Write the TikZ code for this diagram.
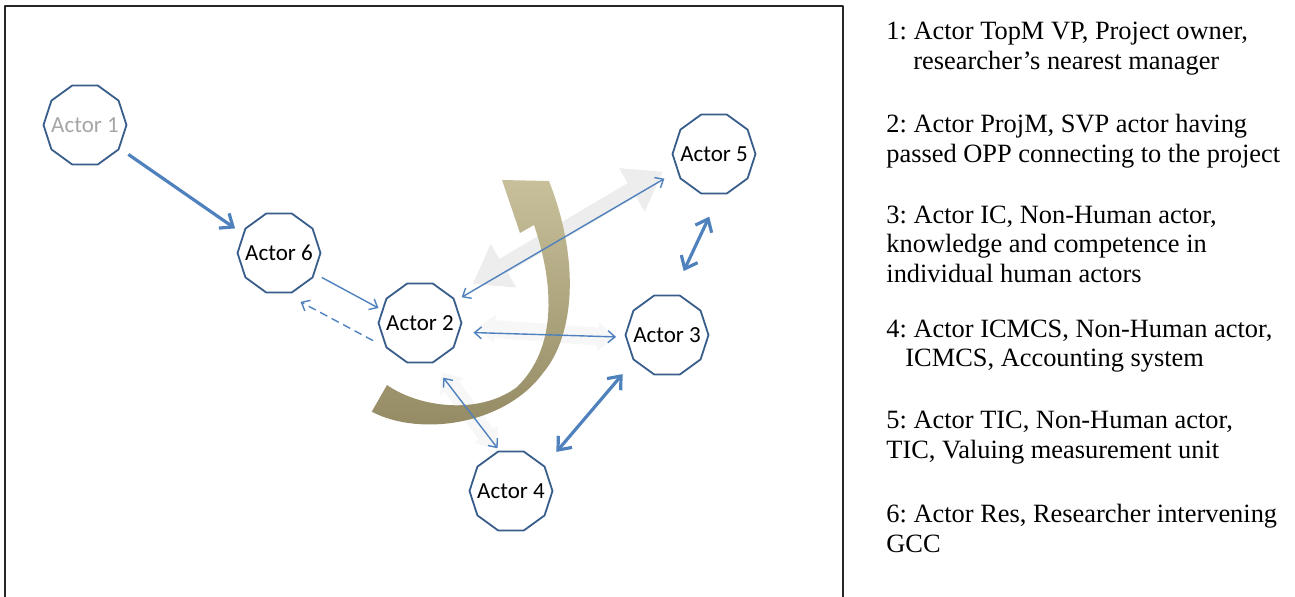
\documentclass[tikz,border=0pt]{standalone}
\usepackage{fontspec}
\setmainfont{Liberation Serif}
\newfontfamily\actorfont{Carlito}
\usetikzlibrary{shapes.geometric,arrows.meta}
\definecolor{actorline}{RGB}{56,93,138}
\definecolor{linkblue}{RGB}{79,129,189}
\definecolor{khakiL}{RGB}{200,192,154}
\definecolor{khakiD}{RGB}{146,137,98}
\frenchspacing
\begin{document}
\begin{tikzpicture}[x=0.5pt, y=-0.5pt, line join = round]
	\tikzset{actor/.style={regular polygon, regular polygon sides=10, draw=actorline, line width=0.9pt, minimum size=41.5pt, inner sep=0pt, fill=white},
		actorlabel/.style={font=\actorfont\fontsize{11.5}{13}\selectfont},
		thinlink/.style={draw=linkblue, line width=0.7pt, >={Straight Barb[length=3.5pt,width=6pt]}},
		thicklink/.style={draw=linkblue, line width=1.6pt, >={Straight Barb[length=5.5pt,width=9pt]}},
		shadowlink/.style={draw=black!7, line width=8pt, arrows={Triangle[length=18pt,width=24pt]-Triangle[length=18pt,width=24pt]}},
		faintlink/.style={draw=black!3, line width=9pt, arrows={Triangle[length=9pt,width=14pt]-Triangle[length=9pt,width=14pt]}},
		legend/.style={anchor=base west, inner sep=0pt, font=\fontsize{13.2}{15}\selectfont}}
	\useasboundingbox (0,0) rectangle (1295,596);
	\draw[line width=1.2pt, black!85] (5,6) rectangle (843,620);
	% actors
	\node[actor, label={[actorlabel, text=black!35]center:Actor 1}] (a1) at (85,125) {};
	\node[actor, label={[actorlabel]center:Actor 6}] (a6) at (279,253) {};
	\node[actor, label={[actorlabel]center:Actor 2}] (a2) at (420,323) {};
	\node[actor, label={[actorlabel]center:Actor 3}] (a3) at (667,335) {};
	\node[actor, label={[actorlabel]center:Actor 5}] (a5) at (714,154) {};
	\node[actor, label={[actorlabel]center:Actor 4}] (a4) at (511,491) {};
	% grey shadows of the links
	\draw[shadowlink, shorten <=12pt, shorten >=7pt] (a2.40) -- (a5.195);
	\draw[faintlink, shorten <=8pt, shorten >=5pt] (a2.-5) -- (a3.185);
	\draw[faintlink, shorten <=6pt, shorten >=1pt] (a2.-70) -- (a4.108);
	% curved arrow
	\shade[top color=khakiL, bottom color=khakiD] (371.7,411.7) .. controls (420,437) and (505,425) .. (543,373) .. controls (575,335) and (580,260) .. (549,181) -- (502,180) -- (520,233) -- (534,225) .. controls (556,290) and (555,350) .. (517,387) .. controls (480,415) and (420,408) .. (387,385) -- cycle;
	% links
	\draw[thicklink, ->, shorten <=5.2pt, shorten >=4.7pt] (a1.-34) -- (a6.152);
	\draw[thinlink, ->, shorten <=4pt, shorten >=1.9pt] (a6.-30) -- (a2.161);
	\draw[thinlink, ->, dashed, dash pattern=on 4pt off 2.5pt, shorten <=7pt, shorten >=9pt] (a2.215) -- (a6.-82);
	\draw[thinlink, <->, shorten <=3.7pt, shorten >=7.4pt] (a2.32) -- (a5.205);
	\draw[thinlink, <->, shorten <=7pt, shorten >=4.6pt] (a2.-13) -- (a3.183);
	\draw[thinlink, <->, shorten <=9pt, shorten >=1.5pt] (a2.-73) -- (a4.106);
	\draw[thicklink, <->, shorten <=8.7pt, shorten >=9pt] (a3.218) -- (a4.37);
	\draw[thicklink, <->, shorten <=13pt, shorten >=12.3pt] (a3.82) -- (a5.-82);
	% legend
	\node[legend] (t1a) at (886,39) {1: Actor TopM VP, Project owner,};
	\node[legend] (t1b) at (913,69) {researcher’s nearest manager};
	\node[legend] (t2a) at (886,132) {2: Actor ProjM, SVP actor having};
	\node[legend] (t2b) at (886,162) {passed OPP connecting to the project};
	\node[legend] (t3a) at (886,223) {3: Actor IC, Non-Human actor,};
	\node[legend] (t3b) at (886,252) {knowledge and competence in};
	\node[legend] (t3c) at (886,282) {individual human actors};
	\node[legend] (t4a) at (886,337) {4: Actor ICMCS, Non-Human actor,};
	\node[legend] (t4b) at (905,366) {ICMCS, Accounting system};
	\node[legend] (t5a) at (886,428) {5: Actor TIC, Non-Human actor,};
	\node[legend] (t5b) at (886,458) {TIC, Valuing measurement unit};
	\node[legend] (t6a) at (886,522) {6: Actor Res, Researcher intervening};
	\node[legend] (t6b) at (886,552) {GCC};
\end{tikzpicture}
\end{document}
